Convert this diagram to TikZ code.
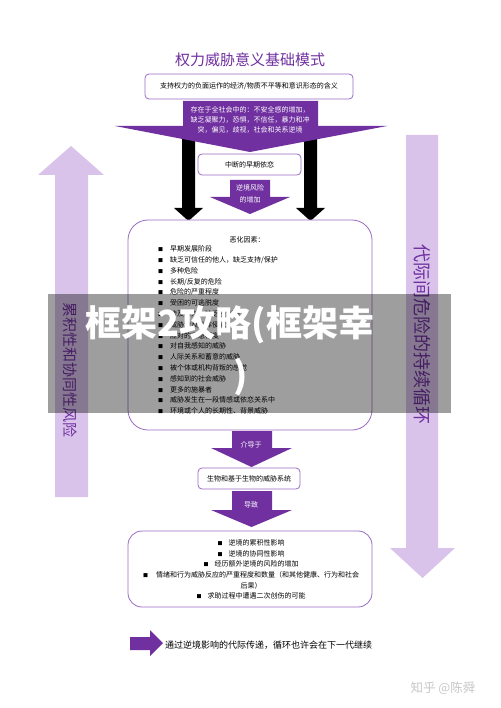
\documentclass[tikz,border=0pt]{standalone}
\usepackage{fontspec}
\setmainfont{Noto Sans CJK SC}
\definecolor{pur}{HTML}{7030A0}
\definecolor{lil}{HTML}{D9C3EA}
\definecolor{bord}{HTML}{9A6BC4}
\newcommand\bul{\makebox[12pt][l]{\fontsize{5}{5}\selectfont ■}}
\newcommand\cbul{\makebox[11pt][l]{\fontsize{5}{5}\selectfont ■}}
\begin{document}
\begin{tikzpicture}[x=1pt,y=-1pt,
  box/.style={draw=bord, line width=0.8pt, rounded corners=4pt, fill=white, inner sep=0},
  txt/.style={font=\fontsize{7}{9}\selectfont, inner sep=0},
  wtxt/.style={txt, text=white},
  parr/.style={fill=pur},
  larr/.style={fill=lil},
  barr/.style={fill=black}]
\useasboundingbox (0,0) rectangle (500,708);
\fill[white] (0,0) rectangle (500,708);
% side arrows
\path[larr] (55,497) -- (55,175) -- (38,175) -- (71,146) -- (104,175) -- (88,175) -- (88,497) -- cycle;
\path[larr] (406,135) -- (438,135) -- (438,548) -- (455,548) -- (422.5,578) -- (390,548) -- (406,548) -- cycle;
\node[inner sep=0, rotate=-90, text=pur, font=\fontsize{15}{15}\selectfont] (lefttxt) at (70,370) {累积性和协同性风险};
\node[inner sep=0, rotate=-90, text=pur, font=\fontsize{18}{18}\selectfont] (righttxt) at (422,334) {代际间危险的持续循环};
% title
\node[inner sep=0, text=pur, font=\fontsize{15}{15}\selectfont] (title) at (250,60) {权力威胁意义基础模式};
% black arrows
\path[barr] (182,135) -- (195,135) -- (195,208) -- (203,208) -- (188.5,221) -- (174,208) -- (182,208) -- cycle;
\path[barr] (304,135) -- (317,135) -- (317,208) -- (325,208) -- (310.5,221) -- (296,208) -- (304,208) -- cycle;
% big purple arrow
\path[parr] (183,101) -- (318,101) -- (318,126) -- (387,126) -- (250,152) -- (115,126) -- (183,126) -- cycle;
\node[box, minimum width=208pt, minimum height=25pt] (b1) at (249,86.5) {};
\node[txt] (b1t) at (b1) {支持权力的负面运作的经济/物质不平等和意识形态的含义};
\node[wtxt, align=center, font=\fontsize{7}{10}\selectfont] (bigt) at (250,120) {存在于全社会中的：不安全感的增加，\\缺乏凝聚力，恐惧，不信任，暴力和冲\\突，偏见，歧视，社会和关系逆境};
% early attachment box
\node[box, minimum width=103pt, minimum height=21pt] (b2) at (249.5,164.5) {};
\node[txt] (b2t) at (b2) {中断的早期依恋};
% small arrow
\path[parr] (230,180) -- (270,180) -- (270,197) -- (290,197) -- (250,214) -- (210,197) -- (230,197) -- cycle;
\node[wtxt, align=center, font=\fontsize{7}{12}\selectfont] (smt) at (250,193.5) {逆境风险\\的增加};
% big box
\node[box, rounded corners=20pt, minimum width=244pt, minimum height=210pt] (b3) at (250,325) {};
\node[txt] (b3h) at (247,240) {恶化因素：};
\node[txt, anchor=north west, align=left, font=\fontsize{7}{10.8}\selectfont] (fac) at (158,245.5) {\bul 早期发展阶段\\
\bul 缺乏可信任的他人，缺乏支持/保护\\
\bul 多种危险\\
\bul 长期/反复的危险\\
\bul 危险的严重程度\\
\bul 受困的可逃脱度\\
\bul 涉及暴力，缺乏控制感\\
\bul 威胁涉及身体侵犯\\
\bul 应对的紧急程度\\
\bul 对自我感知的威胁\\
\bul 人际关系和蓄意的威胁\\
\bul 被个体或机构背叛的感觉\\
\bul 感知到的社会威胁\\
\bul 更多的施暴者\\
\bul 威胁发生在一段情感或依恋关系中\\
\bul 环境或个人的长期性、背景威胁};
% mediated arrow
\path[parr] (232,431) -- (272,431) -- (272,448) -- (292,448) -- (251.5,467) -- (211,448) -- (232,448) -- cycle;
\node[wtxt] (medt) at (251,445) {介导于};
\node[box, minimum width=102pt, minimum height=21pt] (b4) at (249,478.5) {};
\node[txt] (b4t) at (b4) {生物和基于生物的威胁系统};
% leads arrow
\path[parr] (232,491) -- (272,491) -- (272,510) -- (292,510) -- (251.5,527) -- (211,510) -- (232,510) -- cycle;
\node[wtxt] (leadt) at (251,505) {导致};
% bottom box
\node[box, rounded corners=14pt, minimum width=244pt, minimum height=76pt] (b5) at (250,569) {};
\node[txt, align=center, font=\fontsize{7}{10.6}\selectfont] (b5t) at (251,569.5) {\cbul 逆境的累积性影响\\
\cbul 逆境的协同性影响\\
\cbul 经历额外逆境的风险的增加\\
\makebox[13pt][l]{\fontsize{5}{5}\selectfont ■}情绪和行为威胁反应的严重程度和数量（和其他健康、行为和社会\\
后果）\\
\cbul 求助过程中遭遇二次创伤的可能};
% bottom arrow and text
\path[parr] (130,637) -- (150,637) -- (150,630) -- (163,643) -- (150,656) -- (150,650) -- (130,650) -- cycle;
\node[inner sep=0, anchor=west, font=\fontsize{9}{9}\selectfont] (bott) at (165,645) {通过逆境影响的代际传递，循环也许会在下一代继续};
% watermark
\node[inner sep=0, text=black!22, font=\fontsize{12.5}{12.5}\selectfont] (wm) at (443,688) {知乎 @陈舜};
% banner overlay
\fill[black, fill opacity=0.38] (48,294) rectangle (451,413);
\node[inner sep=0, text=white, font=\fontsize{36}{36}\bfseries\selectfont] (ban1) at (230,325) {框架2攻略(框架幸};
\node[inner sep=0, text=white, font=\fontsize{36}{36}\bfseries\selectfont] (ban2) at (241,377) {)};
\end{tikzpicture}
\end{document}
